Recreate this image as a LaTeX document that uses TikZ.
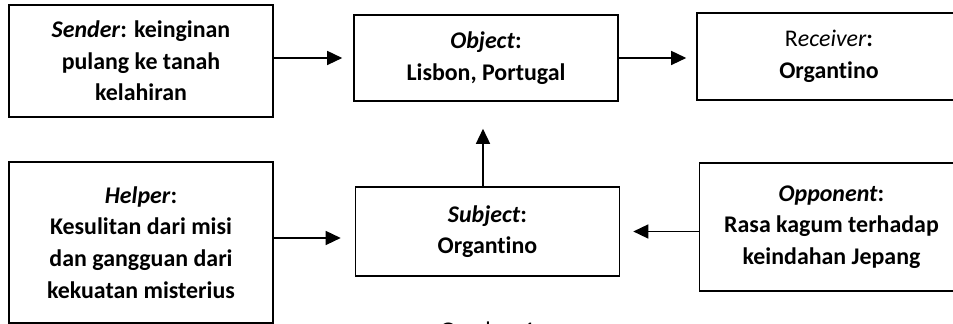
\documentclass[tikz,border=0pt]{standalone}
\usepackage{fontspec}
\setmainfont[Ligatures=NoCommon]{Carlito}
\usetikzlibrary{arrows.meta,positioning,calc}

\begin{document}
\begin{tikzpicture}[x=1cm, y=1cm, font=\fontsize{13.6}{18}\selectfont\bfseries,
    >={Triangle[length=0.3cm, width=0.28cm]},
    actant/.style={draw, line width=0.9pt, align=center, minimum width=5.28cm, inner sep=0pt},
    link/.style={->, line width=0.8pt}]
    \useasboundingbox (0,0) rectangle (19.06,6.48);
    % Top row: sender, object, receiver
    \node[actant, minimum height=2.24cm] (sender) at (2.82,5.26) {\textit{Sender}: keinginan\\pulang ke tanah\\kelahiran};
    \node[actant, minimum height=1.72cm] (object) at (9.72,5.32) {\textit{Object}:\\Lisbon, Portugal};
    \node[actant, minimum height=1.74cm] (receiver) at (16.58,5.35) {{\mdseries R\textit{eceiver}}:\\Organtino};
    % Bottom row: helper, subject, opponent
    \node[actant, minimum height=3.22cm] (helper) at (2.82,1.63) {\textit{Helper}:\\Kesulitan dari misi\\dan gangguan dari\\kekuatan misterius};
    \node[actant, minimum height=1.78cm] (subject) at (9.75,1.85) {\textit{Subject}:\\Organtino};
    \node[actant, minimum height=2.56cm] (opponent) at (16.63,1.94) {\textit{Opponent}:\\Rasa kagum terhadap\\keindahan Jepang};
    % Arrows between the actants
    \draw[link, shorten >=0.22cm] (sender.east |- object.west) -- (object.west);
    \draw[link, shorten >=0.2cm] (object.east) -- (object.east -| receiver.west);
    \coordinate (helper-out) at ($(helper.east)+(0,0.09)$);
    \draw[link, shorten >=0.28cm] (helper-out) -- (helper-out -| subject.west);
    \draw[link, shorten >=0.26cm] (opponent.west |- subject.east) -- (subject.east);
    \coordinate (subject-up) at ($(subject.north)+(-0.09,0)$);
    \draw[link, shorten >=0.54cm] (subject-up) -- (subject-up |- object.south);
    % Caption, cut by the lower edge
    \node[font=\fontsize{13.6}{18}\selectfont, anchor=base] (caption) at (9.75,-0.3) {Gambar 1};
\end{tikzpicture}
\end{document}
